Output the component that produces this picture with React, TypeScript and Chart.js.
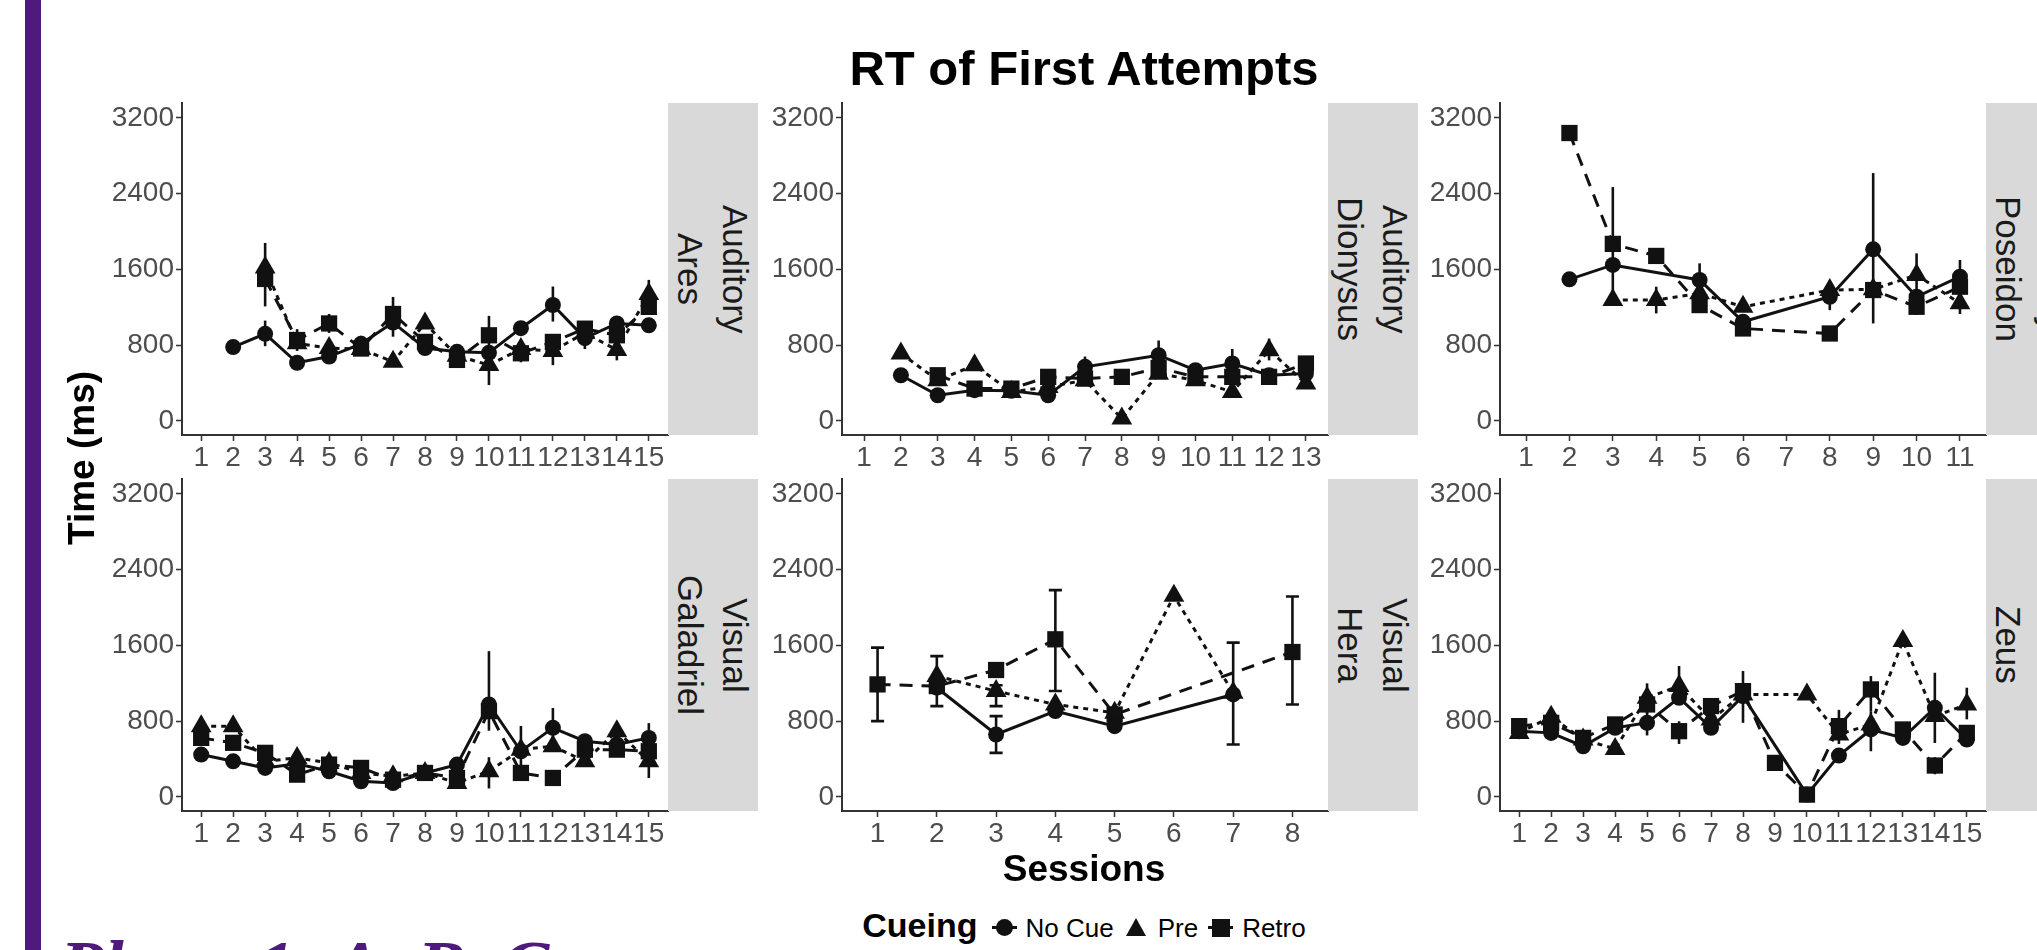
import React, { useEffect, useRef } from "react";
import { Chart, registerables } from "chart.js";
Chart.register(...registerables);

// ---------- tick labels / categories ----------
const sessions15 = [1, 2, 3, 4, 5, 6, 7, 8, 9, 10, 11, 12, 13, 14, 15];
const sessions13 = [1, 2, 3, 4, 5, 6, 7, 8, 9, 10, 11, 12, 13];
const sessions11 = [1, 2, 3, 4, 5, 6, 7, 8, 9, 10, 11];
const sessions8 = [1, 2, 3, 4, 5, 6, 7, 8];
const yTicks = [0, 800, 1600, 2400, 3200];
const cueing = ["No Cue", "Pre", "Retro"];

// ---------- Auditory / Ares (sessions 1-15) ----------
const aresNoCue = [null, 780, 920, 615, 680, 815, 1040, 770, 730, 720, 980, 1225, 875, 1030, 1010];
const aresPre = [null, null, 1620, 820, 770, 760, 625, 1030, 690, 590, 760, 740, 930, 750, 1340];
const aresRetro = [null, null, 1500, 855, 1030, 765, 1130, 835, 645, 905, 715, 835, 975, 905, 1205];
const aresNoCueErr = [[3, 790, 1060], [10, 380, 1110], [12, 1050, 1420], [13, 760, 990], [14, 960, 1090]];
const aresPreErr = [[3, 1210, 1880], [12, 590, 870], [14, 640, 860], [15, 1200, 1490]];
const aresRetroErr = [[4, 740, 970], [5, 930, 1130], [7, 890, 1310], [11, 620, 810], [6, 700, 900]];

// ---------- Auditory / Dionysus (sessions 1-13) ----------
const dioNoCue = [null, 483, 272, 325, 318, 272, 572, null, 695, 536, 607, 483, 501];
const dioPre = [null, 713, 430, 589, 307, 360, 430, 25, 500, 430, 307, 748, 395];
const dioRetro = [null, null, 483, 342, 342, 466, 448, 466, 560, 466, 466, 466, 607];
const dioNoCueErr = [[7, 470, 680], [9, 560, 850], [11, 480, 760]];
const dioPreErr = [[12, 640, 870]];
const dioRetroErr = [[13, 520, 680]];

// ---------- Poseidon (sessions 1-11) ----------
const posNoCue = [null, 1496, 1648, null, 1489, 1048, null, 1312, 1813, 1312, 1524];
const posPre = [null, null, 1277, 1277, 1348, 1206, null, 1383, 1390, 1542, 1242];
const posRetro = [null, 3041, 1870, 1743, 1224, 977, null, 924, 1383, 1206, 1418];
const posNoCueErr = [[3, 1250, 2470], [5, 1306, 1665], [9, 1030, 2618], [11, 1300, 1700]];
const posPreErr = [[4, 1136, 1418], [8, 1170, 1480], [10, 1300, 1770], [11, 1130, 1340]];
const posRetroErr = [[10, 1120, 1300]];

// ---------- Visual / Galadriel (sessions 1-15) ----------
const galNoCue = [448, 377, 307, 350, 272, 166, 148, 254, 342, 977, 483, 730, 589, 554, 624];
const galPre = [748, 748, 377, 413, 360, 254, 219, 254, 148, 272, 500, 536, 377, 695, 377];
const galRetro = [624, 572, 466, 236, 342, 307, 183, 254, 201, 907, 254, 201, 500, 500, 483];
const galNoCueErr = [[10, 700, 1540], [11, 300, 750], [12, 530, 940], [15, 450, 780]];
const galPreErr = [[1, 650, 850], [10, 90, 420], [14, 560, 790], [15, 200, 520]];
const galRetroErr = [[3, 380, 540]];

// ---------- Visual / Hera (sessions 1-8) ----------
const heraNoCue = [null, 1154, 660, 907, 748, null, 1083, null];
const heraPre = [null, 1277, 1118, 977, 889, 2124, 1100, null];
const heraRetro = [1189, 1171, 1341, 1665, 871, null, null, 1531];
const heraNoCueErr = [[3, 466, 854], [7, 554, 1630]];
const heraPreErr = [[2, 960, 1488], [3, 960, 1180]];
const heraRetroErr = [[1, 801, 1577], [4, 1120, 2184], [8, 977, 2117]];

// ---------- Zeus (sessions 1-15) ----------
const zeusNoCue = [695, 677, 536, 730, 783, 1048, 730, 1065, null, 25, 437, 713, 624, 942, 607];
const zeusPre = [677, 847, 607, 508, 1048, 1171, 818, 1083, null, 1083, 660, 766, 1648, 854, 977];
const zeusRetro = [748, 783, 624, 766, 977, 695, 960, 1118, 360, 25, 748, 1136, 713, 332, 677];
const zeusNoCueErr = [[5, 650, 900], [8, 783, 1330], [14, 570, 1312]];
const zeusPreErr = [[5, 880, 1200], [6, 1000, 1383], [7, 780, 1000], [12, 483, 900], [15, 820, 1154]];
const zeusRetroErr = [[6, 560, 800], [11, 560, 920], [12, 900, 1277], [14, 240, 420]];

// ---------- layout (not data) ----------
const FONT = '"Liberation Sans", Arial, Helvetica, sans-serif';
const COLS = [182, 842, 1500];
const ROWS = [103, 479];
const PW = 486;
const PH = 332;
const YAXIS_W = 90;
const XAXIS_H = 50;
const PAD_T = 20;
const PAD_R = 24;
const CW = YAXIS_W + PW + PAD_R;
const CH = PAD_T + PH + XAXIS_H;
const STRIP_W = 90;

type Panel = {
  strip: string;
  col: number;
  row: number;
  sessions: number[];
  series: (number | null)[][];
  errs: number[][][];
  cap: number;
};

const panels: Panel[] = [
  { strip: "Auditory\nAres", col: 0, row: 0, sessions: sessions15, series: [aresNoCue, aresPre, aresRetro], errs: [aresNoCueErr, aresPreErr, aresRetroErr], cap: 0 },
  { strip: "Auditory\nDionysus", col: 1, row: 0, sessions: sessions13, series: [dioNoCue, dioPre, dioRetro], errs: [dioNoCueErr, dioPreErr, dioRetroErr], cap: 0 },
  { strip: "Auditory\nPoseidon", col: 2, row: 0, sessions: sessions11, series: [posNoCue, posPre, posRetro], errs: [posNoCueErr, posPreErr, posRetroErr], cap: 0 },
  { strip: "Visual\nGaladriel", col: 0, row: 1, sessions: sessions15, series: [galNoCue, galPre, galRetro], errs: [galNoCueErr, galPreErr, galRetroErr], cap: 0 },
  { strip: "Visual\nHera", col: 1, row: 1, sessions: sessions8, series: [heraNoCue, heraPre, heraRetro], errs: [heraNoCueErr, heraPreErr, heraRetroErr], cap: 0.22 },
  { strip: "Visual\nZeus", col: 2, row: 1, sessions: sessions15, series: [zeusNoCue, zeusPre, zeusRetro], errs: [zeusNoCueErr, zeusPreErr, zeusRetroErr], cap: 0 },
];

const seriesStyle = [
  { pointStyle: "circle", radius: 8, dash: [] as number[] },
  { pointStyle: "triangle", radius: 12, dash: [5, 5] },
  { pointStyle: "rect", radius: 11.5, dash: [13, 9] },
];

const INK = "#111111";

const errorBarPlugin = {
  id: "errbars",
  beforeDatasetsDraw(chart: any, _args: any, opts: any) {
    const { ctx } = chart;
    const x = chart.scales.x;
    const y = chart.scales.y;
    const bars: number[][] = opts.bars || [];
    const cap: number = opts.cap || 0;
    ctx.save();
    ctx.strokeStyle = INK;
    ctx.lineWidth = 2.6;
    ctx.lineCap = "butt";
    for (const [s, lo, hi] of bars) {
      const px = x.getPixelForValue(s);
      const p1 = y.getPixelForValue(lo);
      const p2 = y.getPixelForValue(hi);
      ctx.beginPath();
      ctx.moveTo(px, p1);
      ctx.lineTo(px, p2);
      if (cap) {
        const hw = x.getPixelForValue(s + cap / 2) - px;
        ctx.moveTo(px - hw, p1);
        ctx.lineTo(px + hw, p1);
        ctx.moveTo(px - hw, p2);
        ctx.lineTo(px + hw, p2);
      }
      ctx.stroke();
    }
    ctx.restore();
  },
};

function buildConfig(p: Panel): any {
  const datasets: any[] = [];
  p.series.forEach((vals, si) => {
    const st = seriesStyle[si];
    const pts = p.sessions
      .map((s, i) => (vals[i] == null ? null : { x: s, y: vals[i] as number }))
      .filter((d) => d !== null);
    datasets.push({
      label: cueing[si] + " line",
      data: pts,
      borderColor: INK,
      borderWidth: 3,
      borderDash: st.dash,
      pointRadius: 0,
      fill: false,
      tension: 0,
      order: 2,
    });
    datasets.push({
      label: cueing[si],
      data: pts,
      showLine: false,
      pointStyle: st.pointStyle,
      pointRadius: st.radius,
      pointHoverRadius: st.radius,
      pointBackgroundColor: INK,
      pointBorderColor: INK,
      pointBorderWidth: 0,
      order: 1,
    });
  });
  const n = p.sessions.length;
  const tickFont = { family: FONT, size: 28 };
  return {
    type: "line",
    data: { datasets },
    plugins: [errorBarPlugin],
    options: {
      animation: false,
      responsive: false,
      maintainAspectRatio: false,
      layout: { padding: { left: 0, top: PAD_T, right: PAD_R, bottom: 0 } },
      plugins: {
        legend: { display: false },
        tooltip: { enabled: false },
        errbars: { bars: p.errs.flat(), cap: p.cap },
      },
      scales: {
        x: {
          type: "linear",
          min: 0.4,
          max: n + 0.6,
          afterBuildTicks: (ax: any) => {
            ax.ticks = p.sessions.map((v) => ({ value: v }));
          },
          afterFit: (sc: any) => {
            sc.height = XAXIS_H;
          },
          ticks: {
            autoSkip: false,
            maxRotation: 0,
            minRotation: 0,
            padding: 0,
            color: "#4D4D4D",
            font: tickFont,
            callback: (v: any) => String(v),
          },
          grid: { display: true, drawOnChartArea: false, drawTicks: true, tickLength: 6, tickColor: "#333333", tickWidth: 1.5 },
          border: { display: true, color: "#333333", width: 2 },
        },
        y: {
          type: "linear",
          min: -148,
          max: 3358,
          afterBuildTicks: (ax: any) => {
            ax.ticks = yTicks.map((v) => ({ value: v }));
          },
          afterFit: (sc: any) => {
            sc.width = YAXIS_W;
          },
          ticks: {
            padding: 2,
            color: "#4D4D4D",
            font: tickFont,
            callback: (v: any) => String(v),
          },
          grid: { display: true, drawOnChartArea: false, drawTicks: true, tickLength: 6, tickColor: "#333333", tickWidth: 1.5 },
          border: { display: true, color: "#333333", width: 2 },
        },
      },
    },
  };
}

function LegendKey({ kind }: { kind: number }) {
  const shape: React.CSSProperties =
    kind === 0
      ? { position: "absolute", left: 2, top: 2, width: 17, height: 17, borderRadius: "50%", background: INK }
      : kind === 1
      ? { position: "absolute", left: 0, top: 1, width: 0, height: 0, borderLeft: "10.5px solid transparent", borderRight: "10.5px solid transparent", borderBottom: "18px solid " + INK }
      : { position: "absolute", left: 1.5, top: 1.5, width: 18, height: 18, background: INK };
  return (
    <span style={{ position: "relative", display: "inline-block", width: 21, height: 20, marginRight: 11 }}>
      {kind !== 1 && <span style={{ position: "absolute", left: -2, top: 9, width: 25, height: 3, background: INK }} />}
      <span style={shape} />
    </span>
  );
}

export default function App() {
  const refs = useRef<(HTMLCanvasElement | null)[]>([]);

  useEffect(() => {
    document.body.style.margin = "0";
    document.body.style.overflow = "hidden";
    const charts = panels.map((p, i) => new Chart(refs.current[i] as HTMLCanvasElement, buildConfig(p)));
    return () => {
      charts.forEach((c) => c.destroy());
    };
  }, []);

  const centerX = (COLS[0] + COLS[2] + PW) / 2;

  return (
    <div
      style={{
        position: "fixed",
        left: 0,
        top: 0,
        width: 2037,
        height: 950,
        overflow: "hidden",
        background: "#ffffff",
        fontFamily: FONT,
      }}
    >
      <div style={{ position: "absolute", left: 25, top: 0, width: 16, height: 950, background: "#4E1B7D" }} />

      <div
        style={{
          position: "absolute",
          left: centerX - 600,
          width: 1200,
          top: 44,
          textAlign: "center",
          fontSize: 49,
          lineHeight: "49px",
          fontWeight: 700,
          color: "#000",
        }}
      >
        RT of First Attempts
      </div>

      {panels.map((p, i) => {
        const L = COLS[p.col];
        const T = ROWS[p.row];
        return (
          <React.Fragment key={i}>
            <canvas
              ref={(el) => {
                refs.current[i] = el;
              }}
              width={CW}
              height={CH}
              style={{ position: "absolute", left: L - YAXIS_W, top: T - PAD_T, width: CW, height: CH }}
            />
            <div
              style={{
                position: "absolute",
                left: L + PW,
                top: T,
                width: STRIP_W,
                height: PH,
                background: "#D9D9D9",
                display: "flex",
                alignItems: "center",
                justifyContent: "center",
              }}
            >
              <span
                style={{
                  writingMode: "vertical-rl",
                  whiteSpace: "pre",
                  textAlign: "center",
                  fontSize: 35,
                  lineHeight: "45px",
                  color: "#1A1A1A",
                }}
              >
                {p.strip}
              </span>
            </div>
          </React.Fragment>
        );
      })}

      <div
        style={{
          position: "absolute",
          left: 82 - 150,
          top: 458 - 20,
          width: 300,
          height: 40,
          lineHeight: "40px",
          textAlign: "center",
          fontSize: 37,
          fontWeight: 700,
          color: "#000",
          transform: "rotate(-90deg)",
          whiteSpace: "nowrap",
        }}
      >
        Time (ms)
      </div>

      <div
        style={{
          position: "absolute",
          left: centerX - 300,
          width: 600,
          top: 850,
          textAlign: "center",
          fontSize: 37,
          lineHeight: "37px",
          fontWeight: 700,
          color: "#000",
        }}
      >
        Sessions
      </div>

      <div
        style={{
          position: "absolute",
          left: centerX - 400,
          width: 800,
          top: 908,
          display: "flex",
          justifyContent: "center",
          alignItems: "baseline",
          whiteSpace: "nowrap",
        }}
      >
        <span style={{ fontSize: 34, lineHeight: "34px", fontWeight: 700, color: "#000", marginRight: 16 }}>Cueing</span>
        {cueing.map((c, k) => (
          <React.Fragment key={c}>
            <LegendKey kind={k} />
            <span style={{ fontSize: 26, lineHeight: "26px", color: "#000", marginRight: k < 2 ? 12 : 0 }}>{c}</span>
          </React.Fragment>
        ))}
      </div>

      <div
        style={{
          position: "absolute",
          left: 60,
          top: 930,
          fontFamily: '"Liberation Serif", "DejaVu Serif", serif',
          fontStyle: "italic",
          fontWeight: 700,
          fontSize: 72,
          lineHeight: "72px",
          color: "#4E1B7D",
          whiteSpace: "nowrap",
        }}
      >
        Phase 1: A, B, C
      </div>
    </div>
  );
}
